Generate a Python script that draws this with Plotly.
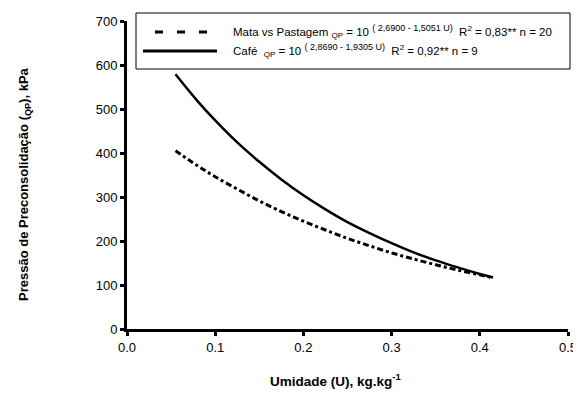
import plotly.graph_objects as go

# Moisture values (U, kg/kg) at which the curves were read
umidade = [0.055, 0.08, 0.10, 0.125, 0.15, 0.175, 0.20, 0.225, 0.25, 0.275,
           0.30, 0.325, 0.35, 0.375, 0.40, 0.415]
# Preconsolidation pressure (kPa)
mata_pastagem = [405, 371, 346, 318, 291, 267, 245, 225, 206, 189,
                 173, 159, 146, 134, 123, 116]
cafe = [579, 518, 474, 424, 380, 340, 304, 272, 243, 218,
        195, 174, 156, 140, 125, 117]

x_ticks = [0.0, 0.1, 0.2, 0.3, 0.4, 0.5]
x_tick_labels = ["0.0", "0.1", "0.2", "0.3", "0.4", "0.5"]
y_ticks = [0, 100, 200, 300, 400, 500, 600, 700]

SUP = '<sup><span style="font-size:9px">{}</span></sup>'
label_mata = ("Mata vs Pastagem <sub>QP</sub> = 10&nbsp;" + SUP.format("( 2,6900 - 1,5051 U)")
              + "&nbsp;&nbsp;R<sup>2</sup> = 0,83** n = 20")
label_cafe = ("Café&nbsp;&nbsp;<sub>QP</sub> = 10&nbsp;" + SUP.format("( 2,8690 - 1,9305 U)")
              + "&nbsp;&nbsp;R<sup>2</sup> = 0,92** n = 9")

fig = go.Figure()
fig.add_trace(go.Scatter(
    x=umidade, y=mata_pastagem, mode="lines", name="Mata vs Pastagem",
    line=dict(color="black", width=3, dash="6px,3px,3px,3px", shape="spline"),
    showlegend=False,
))
fig.add_trace(go.Scatter(
    x=umidade, y=cafe, mode="lines", name="Café",
    line=dict(color="black", width=2.5, shape="spline"),
    showlegend=False,
))

# page has an 8px body margin: figure spans 8..581 x 8..396
W, H, OFF = 573, 388, 8
PL, PT, PW, PH = 127, 21, 441, 308  # plot area in window pixels


def px(xp):
    return (xp - PL) / PW


def py(yp):
    return (PT + PH - yp) / PH


# legend drawn as a box with sample lines and labels
shapes = [
    dict(type="rect", xref="paper", yref="paper", x0=px(136), x1=px(570),
         y0=py(69), y1=py(13), line=dict(color="black", width=1), fillcolor="white",
         layer="above"),
    dict(type="line", xref="paper", yref="paper", x0=px(155), x1=px(210),
         y0=py(32), y1=py(32), line=dict(color="black", width=3, dash="8px,14px")),
    dict(type="line", xref="paper", yref="paper", x0=px(143), x1=px(217),
         y0=py(51), y1=py(51), line=dict(color="black", width=3)),
]

annotations = [
    dict(text=label_mata, xref="paper", yref="paper", x=px(231), y=py(32),
         xanchor="left", yanchor="middle", showarrow=False, font=dict(size=11.5)),
    dict(text=label_cafe, xref="paper", yref="paper", x=px(231), y=py(51),
         xanchor="left", yanchor="middle", showarrow=False, font=dict(size=11.5)),
    dict(text="<b>Pressão de Preconsolidação (<sub>QP</sub>), kPa</b>",
         xref="paper", yref="paper", x=px(24), y=py(184),
         xanchor="center", yanchor="middle", textangle=-90, showarrow=False,
         font=dict(size=13)),
    dict(text="<b>Umidade (U), kg.kg<sup>-1</sup></b>",
         xref="paper", yref="paper", x=px(335), y=py(380),
         xanchor="center", yanchor="middle", showarrow=False,
         font=dict(size=13.5)),
]

fig.update_layout(
    width=W, height=H,
    margin=dict(l=PL - OFF, r=W + OFF - PL - PW, t=PT - OFF, b=H + OFF - PT - PH,
                autoexpand=False),
    paper_bgcolor="white", plot_bgcolor="white",
    font=dict(family="Liberation Sans, Arial, sans-serif", color="black", size=12),
    showlegend=False,
    xaxis=dict(
        range=[0, 0.5], tickvals=x_ticks, ticktext=x_tick_labels,
        showgrid=False, zeroline=False, showline=True, linecolor="black", linewidth=3,
        ticks="outside", ticklen=4, tickwidth=3, tickcolor="black",
        tickfont=dict(size=13), automargin=False,
    ),
    yaxis=dict(
        range=[0, 700], tickvals=y_ticks,
        showgrid=False, zeroline=False, showline=True, linecolor="black", linewidth=3,
        ticks="outside", ticklen=4, tickwidth=3, tickcolor="black",
        tickfont=dict(size=13), automargin=False,
    ),
    shapes=shapes,
    annotations=annotations,
)

fig.write_html("out.html")
